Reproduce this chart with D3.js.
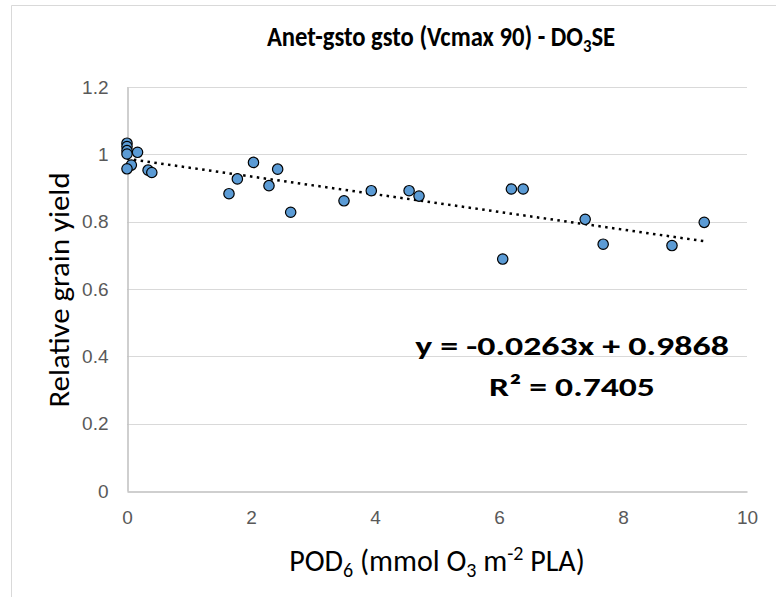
<!DOCTYPE html>
<html>
<head>
<meta charset="utf-8">
<script src="https://cdn.jsdelivr.net/npm/d3@7"></script>
<style>
  body { margin: 0; background: #fff; }
  svg { font-family: Carlito, Calibri, "Liberation Sans", sans-serif; }
</style>
</head>
<body>
<svg id="chart"></svg>
<script>
// POD6 values (x) and relative grain yield (y)
const podValues = [0, 0, 0, 0, 0.17, 0.07, 0, 0.34, 0.4,
  1.645, 1.78, 2.04, 2.29, 2.43, 2.64, 3.5, 3.94, 4.55, 4.71,
  6.06, 6.2, 6.39, 7.39, 7.68, 8.79, 9.31];
const yieldValues = [1.033, 1.023, 1.011, 1.001, 1.006, 0.968, 0.957, 0.953, 0.946,
  0.883, 0.927, 0.976, 0.907, 0.956, 0.828, 0.862, 0.892, 0.892, 0.876,
  0.689, 0.897, 0.897, 0.807, 0.733, 0.729, 0.798];
const xTicks = [0, 2, 4, 6, 8, 10];
const yTicks = [0, 0.2, 0.4, 0.6, 0.8, 1, 1.2];
const slope = -0.0263;
const intercept = 0.9868;
const rSquared = "0.7405";

const width = 776;
const height = 597;
const margin = { left: 127, right: 29, top: 87, bottom: 106 };

let svg = d3.select("#chart").attr("width", width).attr("height", height);

// chart frame (only left and top edges are visible)
svg.append("path")
  .attr("d", `M11.5,${height} V5.5 H${width}`)
  .attr("fill", "none")
  .attr("stroke", "#d9d9d9");

let x = d3.scaleLinear().domain([0, 10]).range([margin.left, width - margin.right]);
let y = d3.scaleLinear().domain([0, 1.2]).range([height - margin.bottom, margin.top]);

// gridlines
svg.append("g")
  .selectAll("line")
  .data(yTicks.filter((d) => d > 0))
  .enter()
  .append("line")
  .attr("x1", x(0))
  .attr("x2", x(10))
  .attr("y1", (d) => Math.round(y(d)) + 0.5)
  .attr("y2", (d) => Math.round(y(d)) + 0.5)
  .attr("stroke", "#d9d9d9")
  .attr("stroke-width", 1.2);

// axes
let xAxis = svg.append("g")
  .attr("transform", "translate(0," + (Math.round(y(0)) + 0.5) + ")")
  .call(d3.axisBottom(x).tickValues(xTicks).tickSize(0).tickPadding(19).tickFormat(d3.format("d")));
let yAxis = svg.append("g")
  .attr("transform", "translate(" + (Math.round(x(0)) + 0.5) + ",0)")
  .call(d3.axisLeft(y).tickValues(yTicks).tickSize(0).tickPadding(19).tickFormat((d) => String(d)));

[xAxis, yAxis].forEach((a) => {
  a.select(".domain").attr("stroke", "#bfbfbf").attr("stroke-width", 1.5);
  a.selectAll("text")
    .attr("fill", "#595959")
    .style("font-size", "19px")
    .style("font-family", null);
});

// trendline
let xMax = d3.max(podValues);
svg.append("line")
  .attr("x1", x(0))
  .attr("y1", y(intercept))
  .attr("x2", x(xMax))
  .attr("y2", y(intercept + slope * xMax))
  .attr("stroke", "#000")
  .attr("stroke-width", 2.5)
  .attr("stroke-dasharray", "2.5 4.4");

// points
svg.append("g")
  .selectAll("circle")
  .data(podValues.map((d, i) => [d, yieldValues[i]]))
  .enter()
  .append("circle")
  .attr("cx", (d) => x(d[0]))
  .attr("cy", (d) => y(d[1]))
  .attr("r", 5.2)
  .attr("fill", "#5b9bd5")
  .attr("stroke", "#000")
  .attr("stroke-width", 1.2);

// title (a bit condensed in the original)
let title = svg.append("text")
  .attr("transform", "translate(441,46) scale(0.88,1)")
  .attr("text-anchor", "middle")
  .attr("font-weight", "bold")
  .attr("font-size", 28)
  .attr("fill", "#000");
title.append("tspan").text("Anet-gsto gsto (Vcmax 90) - DO");
title.append("tspan").attr("font-size", 19).attr("dy", 6).text("3");
title.append("tspan").attr("dy", -6).text("SE");

// y label
svg.append("text")
  .attr("transform", "translate(69,290) rotate(-90) scale(1.1,1)")
  .attr("text-anchor", "middle")
  .attr("font-size", 28)
  .attr("fill", "#000")
  .text("Relative grain yield");

// x label
let xLabel = svg.append("text")
  .attr("x", 437)
  .attr("y", 571)
  .attr("text-anchor", "middle")
  .attr("font-size", 30)
  .attr("fill", "#000");
xLabel.append("tspan").text("POD");
xLabel.append("tspan").attr("font-size", 20).attr("dy", 6).text("6");
xLabel.append("tspan").attr("dy", -6).text(" (mmol O");
xLabel.append("tspan").attr("font-size", 20).attr("dy", 6).text("3");
xLabel.append("tspan").attr("dy", -6).text(" m");
xLabel.append("tspan").attr("font-size", 20).attr("dy", -11).text("-2");
xLabel.append("tspan").attr("dy", 11).text(" PLA)");

// regression equation (text box is stretched horizontally in the original)
svg.append("text")
  .attr("transform", "translate(572,355) scale(1.33,1)")
  .attr("text-anchor", "middle")
  .attr("font-weight", "bold")
  .attr("font-size", 27)
  .text(`y = ${slope}x + ${intercept}`);
svg.append("text")
  .attr("transform", "translate(572,396) scale(1.32,1)")
  .attr("text-anchor", "middle")
  .attr("font-weight", "bold")
  .attr("font-size", 27)
  .text(`R² = ${rSquared}`);
</script>
</body>
</html>
